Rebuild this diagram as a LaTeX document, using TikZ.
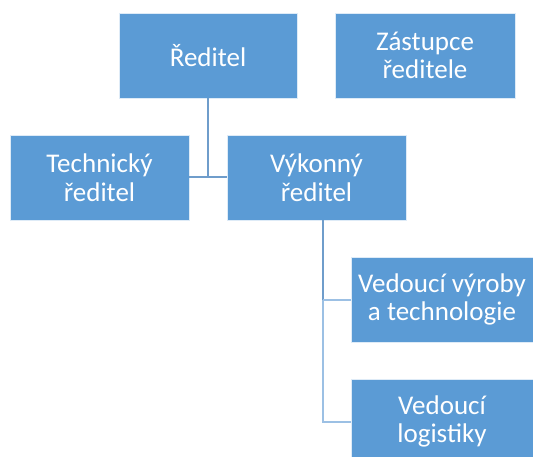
\documentclass[tikz,border=0pt]{standalone}
\usepackage{fontspec}
\setmainfont{Carlito}
\definecolor{boxblue}{HTML}{5B9BD5}
\definecolor{lineup}{HTML}{6F9DCB}
\definecolor{linelow}{HTML}{9CC0E4}
\begin{document}
\begin{tikzpicture}[x=1pt,y=-1pt,
  orgbox/.style={rectangle,fill=boxblue,draw=white!80!boxblue,line width=0.6pt,
    text=white,align=center,inner sep=0pt,
    font=\fontsize{27}{28.5}\selectfont},
  conn/.style={line width=2pt}]
\useasboundingbox (0,0) rectangle (533,457);
\node[orgbox,minimum width=178,minimum height=85] (dir) at (208,55.5) {Ředitel};
\node[orgbox,minimum width=180,minimum height=85] (dep) at (425,55.5) {Zástupce\\ředitele};
\node[orgbox,minimum width=179,minimum height=85] (tech) at (99.5,177.5) {Technický\\ředitel};
\node[orgbox,minimum width=179,minimum height=85] (exec) at (316.5,177.5) {Výkonný\\ředitel};
\node[orgbox,minimum width=182,minimum height=85] (prod) at (442,299.5) {Vedoucí výroby\\a technologie};
\node[orgbox,minimum width=182,minimum height=85] (log) at (442,421.5) {Vedoucí\\logistiky};
\coordinate (j1) at (dir.south |- tech.east);
\draw[conn,lineup] (dir.south) -- (j1);
\draw[conn,lineup] (tech.east) -- (exec.west);
\coordinate (ex) at (323,0);
\coordinate (t1) at (ex |- exec.south);
\coordinate (t2) at (ex |- prod.west);
\coordinate (t3) at (ex |- log.west);
\draw[conn,lineup] (t1) -- (t2);
\draw[conn,linelow] (t2) -- (t3) -- (log.west);
\draw[conn,linelow] (t2) -- (prod.west);
\end{tikzpicture}
\end{document}
